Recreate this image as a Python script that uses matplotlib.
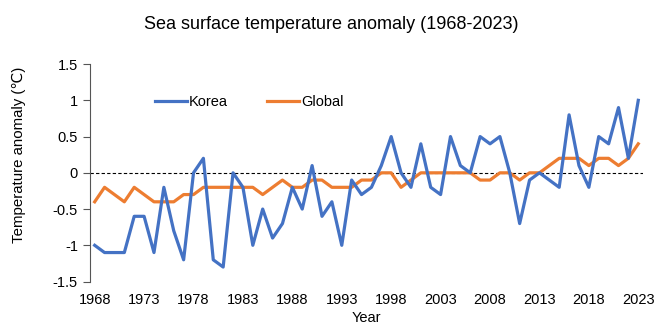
import matplotlib
matplotlib.use('Agg')
import matplotlib.pyplot as plt
import numpy as np

years = np.arange(1968, 2024)
korea = [-1.0, -1.1, -1.1, -1.1, -0.6, -0.6, -1.1, -0.2, -0.8, -1.2,
         0.0, 0.2, -1.2, -1.3, 0.0, -0.2, -1.0, -0.5, -0.9, -0.7,
         -0.2, -0.5, 0.1, -0.6, -0.4, -1.0, -0.1, -0.3, -0.2, 0.1,
         0.5, 0.0, -0.2, 0.4, -0.2, -0.3, 0.5, 0.1, 0.0, 0.5,
         0.4, 0.5, 0.0, -0.7, -0.1, 0.0, -0.1, -0.2, 0.8, 0.1,
         -0.2, 0.5, 0.4, 0.9, 0.2, 1.0]
glob_sst = [-0.4, -0.2, -0.3, -0.4, -0.2, -0.3, -0.4, -0.4, -0.4, -0.3,
            -0.3, -0.2, -0.2, -0.2, -0.2, -0.2, -0.2, -0.3, -0.2, -0.1,
            -0.2, -0.2, -0.1, -0.1, -0.2, -0.2, -0.2, -0.1, -0.1, 0.0,
            0.0, -0.2, -0.1, 0.0, 0.0, 0.0, 0.0, 0.0, 0.0, -0.1,
            -0.1, 0.0, 0.0, -0.1, 0.0, 0.0, 0.1, 0.2, 0.2, 0.2,
            0.1, 0.2, 0.2, 0.1, 0.2, 0.4]
xticks = np.arange(1968, 2024, 5)
yticks = [1.5, 1, 0.5, 0, -0.5, -1, -1.5]
ytick_labels = ['1.5', '1', '0.5', '0', '-0.5', '-1', '-1.5']

plt.rcParams['font.family'] = ['Liberation Sans', 'DejaVu Sans']

fig = plt.figure(figsize=(6.55, 3.27), dpi=100)
ax = fig.add_axes([0.137, 0.139, 0.845, 0.665])

ax.axhline(0, color='black', lw=0.8, ls=(0, (3, 2)), zorder=1)
ax.plot(years, korea, color='#4472C4', lw=2.3, label='Korea', zorder=3)
ax.plot(years, glob_sst, color='#ED7D31', lw=2.3, label='Global', zorder=2)

ax.set_xlim(1967.5, 2023.5)
ax.set_ylim(-1.5, 1.5)
ax.set_xticks(xticks)
ax.set_yticks(yticks)
ax.set_yticklabels(ytick_labels)
ax.tick_params(axis='x', length=0, labelsize=10.5, pad=8)
ax.tick_params(axis='y', length=5, direction='out', labelsize=10.5, color='#555555')

for s in ['top', 'right', 'bottom']:
    ax.spines[s].set_visible(False)
ax.spines['left'].set_color('#555555')

ax.set_xlabel('Year', fontsize=10.5, labelpad=3)
ax.set_ylabel('Temperature anomaly (\u2103)', fontsize=10.8)
ax.yaxis.set_label_coords(-0.1155, 0.582)
fig.text(0.505, 0.924, 'Sea surface temperature anomaly (1968-2023)', fontsize=13,
         ha='center', va='center')

fig.legend(loc='center left', bbox_to_anchor=(0.225, 0.689), ncol=2, frameon=False,
           fontsize=10.5, borderpad=0, handlelength=2.2, handletextpad=0.15,
           columnspacing=2.7)

fig.savefig('out.png', dpi=100)
